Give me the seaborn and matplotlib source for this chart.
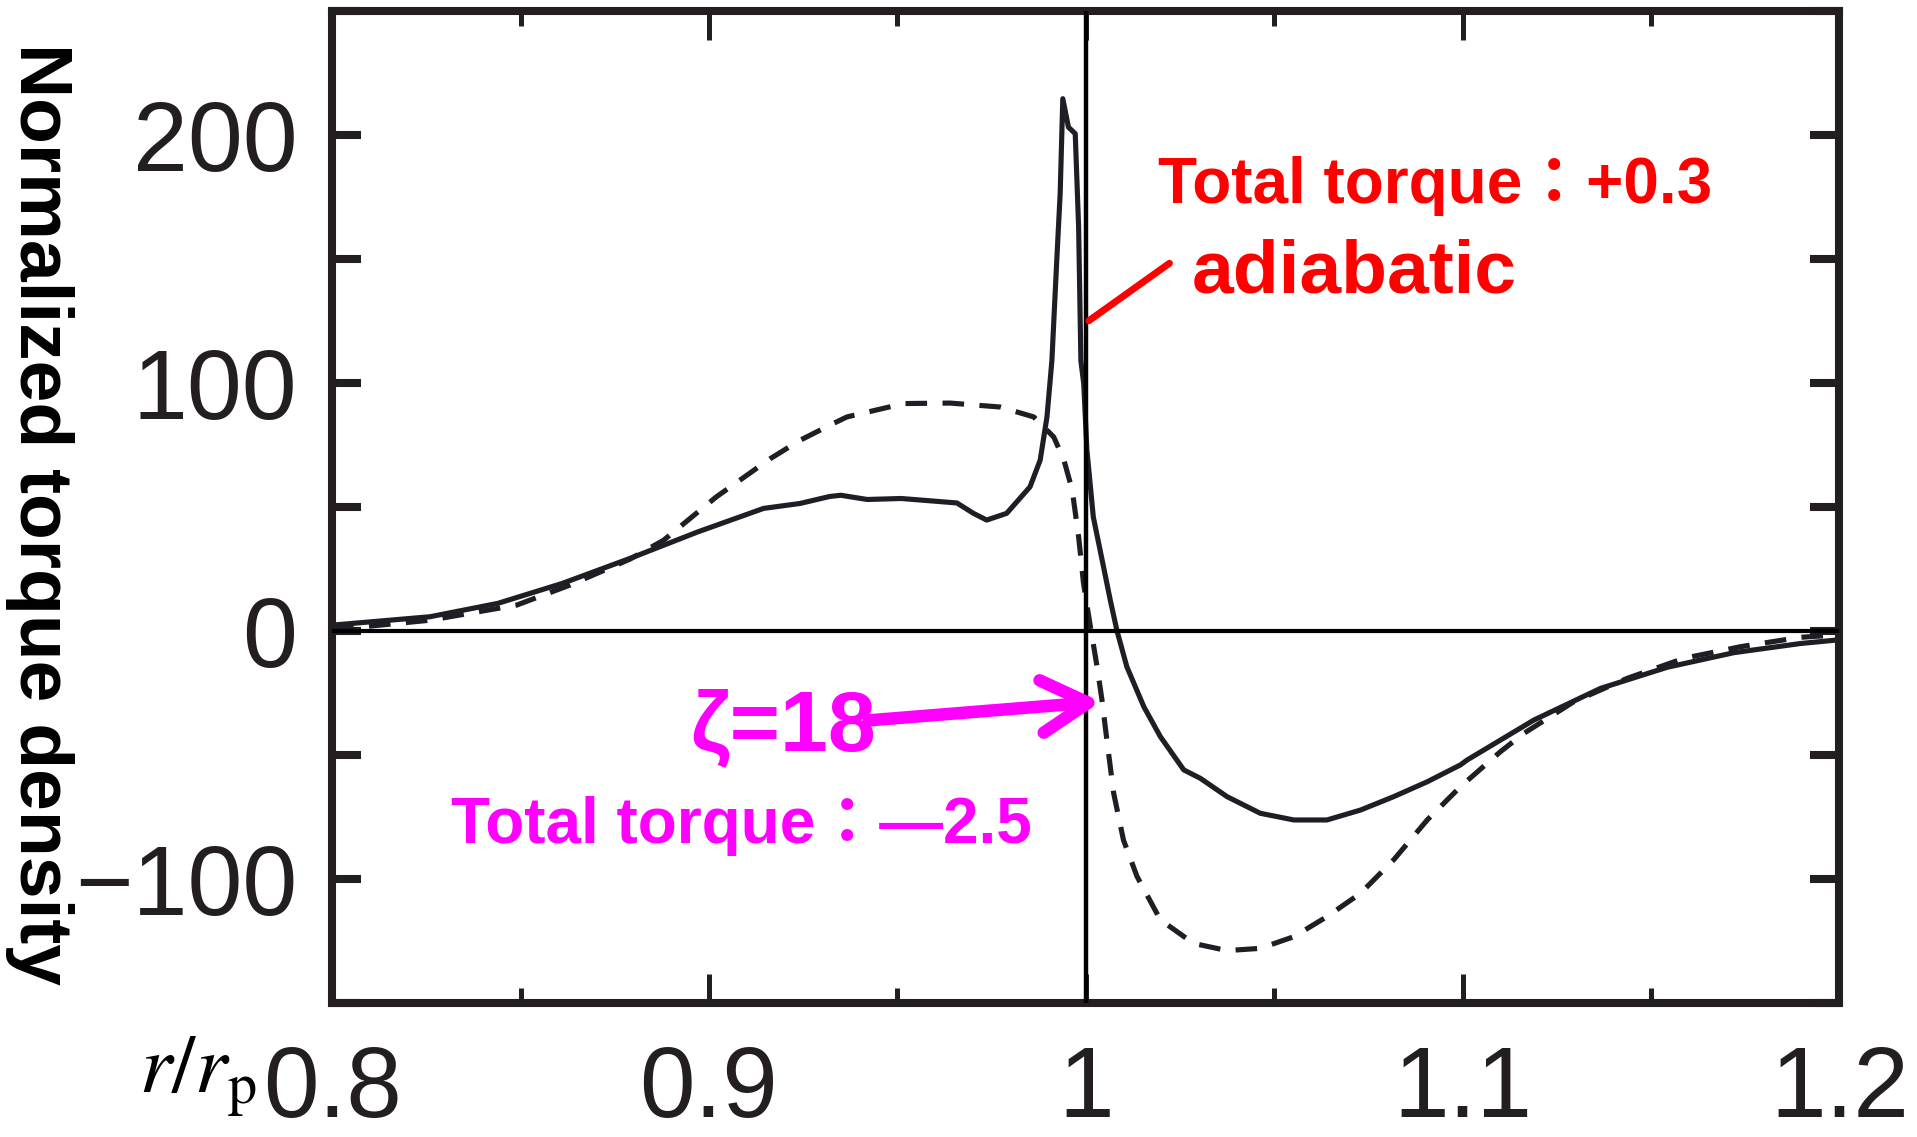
import matplotlib
matplotlib.use('Agg')
import matplotlib.pyplot as plt
from matplotlib.ticker import FixedLocator
import pandas as pd
import seaborn as sns

# torque density curves
r_solid = [0.800, 0.826, 0.844, 0.861, 0.879, 0.897, 0.9145, 0.9242, 0.932, 0.935,
           0.942, 0.951, 0.9658, 0.9702, 0.9737, 0.979, 0.9852, 0.9879, 0.9897, 0.9910,
           0.9923, 0.9932, 0.9939, 0.9954, 0.9972, 0.9981, 0.9987, 0.99945, 1.0003, 1.002,
           1.0047, 1.0065, 1.0083, 1.0109, 1.0154, 1.0198, 1.026, 1.0304, 1.0375, 1.0463,
           1.0552, 1.064, 1.0729, 1.0817, 1.0906, 1.0994, 1.1012, 1.1189, 1.1366, 1.1543,
           1.172, 1.1897, 1.200]
t_solid = [2.4, 5.8, 11.2, 19.2, 29.3, 40.0, 49.5, 51.5, 54.3, 54.8,
           53.1, 53.5, 51.7, 47.5, 44.8, 47.5, 58.2, 69.0, 86.4, 109.0,
           149.6, 176.5, 214.8, 203.3, 200.7, 163.0, 109.0, 99.9, 73.0, 46.0,
           26.0, 12.5, 0.0, -14.4, -30.5, -42.6, -56.0, -59.4, -66.8, -73.5,
           -76.2, -76.2, -72.2, -66.8, -60.8, -54.0, -52.0, -35.9, -23.1, -14.6,
           -8.7, -5.0, -3.5]

r_dash = [0.800, 0.808, 0.826, 0.849, 0.863, 0.879, 0.888, 0.902, 0.9163, 0.9242,
          0.932, 0.9366, 0.9517, 0.964, 0.9773, 0.9862, 0.9915, 0.9942, 0.9964, 0.9981,
          0.9994, 1.0012, 1.003, 1.0043, 1.0056, 1.0074, 1.010, 1.0136, 1.0198, 1.0286,
          1.0375, 1.0463, 1.0552, 1.064, 1.0729, 1.0817, 1.0906, 1.0994, 1.110, 1.1162,
          1.1295, 1.1436, 1.1587, 1.1737, 1.1897, 1.200]
t_dash = [1.0, 1.7, 4.4, 10.5, 18.5, 29.0, 36.7, 54.2, 69.6, 77.0,
          83.0, 86.4, 91.8, 92.0, 90.4, 86.4, 78.3, 69.0, 56.9, 38.0,
          19.2, 2.0, -14.4, -27.8, -44.0, -65.4, -84.3, -99.0, -116.5, -126.0,
          -128.9, -128.0, -123.3, -115.2, -105.8, -92.3, -76.2, -62.8, -48.7, -41.3,
          -28.5, -19.1, -11.0, -6.3, -2.5, -1.5]

x_major = [0.8, 0.9, 1.0, 1.1, 1.2]
x_labels = ['0.8', '0.9', '1', '1.1', '1.2']
x_minor = [0.85, 0.95, 1.05, 1.15]
y_ticks = [-150, -100, -50, 0, 50, 100, 150, 200, 250]
y_labels = ['', '\u2212100', '', '0', '', '100', '', '200', '']

sns.set_theme(style='ticks')
plt.rcParams['font.family'] = ['Liberation Sans', 'Noto Sans CJK JP', 'DejaVu Sans']
plt.rcParams['mathtext.fontset'] = 'stix'

ink = '#231f20'
curve = '#1e1e24'
red = '#ff0000'
magenta = '#ff00ff'

fig = plt.figure(figsize=(19.175, 11.375), dpi=100)
ax = fig.add_axes([0.1732, 0.1179, 0.7861, 0.8716])

df_s = pd.DataFrame({'r': r_solid, 'torque': t_solid})
df_d = pd.DataFrame({'r': r_dash, 'torque': t_dash})
sns.lineplot(data=df_s, x='r', y='torque', ax=ax, color=curve, lw=3.7,
             sort=False, estimator=None, solid_joinstyle='round',
             solid_capstyle='round')
sns.lineplot(data=df_d, x='r', y='torque', ax=ax, color=curve, lw=3.7,
             sort=False, estimator=None, linestyle=(0, (4.2, 3.0)),
             dash_joinstyle='round')

ax.axhline(0, color='black', lw=3.0, zorder=3)
ax.axvline(1.0, color='black', lw=3.2, zorder=3)

ax.set_xlim(0.8, 1.2)
ax.set_ylim(-150, 250)

for s in ax.spines.values():
    s.set_linewidth(5.8)
    s.set_color(ink)
    s.set_visible(True)

ax.set_xticks(x_major, x_labels)
ax.xaxis.set_minor_locator(FixedLocator(x_minor))
ax.set_yticks(y_ticks, y_labels)
ax.tick_params(axis='x', which='major', direction='in', length=21, width=3.6,
               top=True, labelsize=72, pad=29, color=ink, labelcolor=ink)
ax.tick_params(axis='x', which='minor', direction='in', length=11, width=3.6,
               top=True, color=ink)
ax.tick_params(axis='y', which='major', direction='in', length=21, width=5.8,
               right=True, labelsize=71, pad=25, color=ink, labelcolor=ink)

ax.set_ylabel('Normalized torque density', fontsize=54, fontweight='bold',
              rotation=270, va='center', ha='center', color='black')
ax.yaxis.set_label_coords(-0.194, 0.494)
ax.set_xlabel(r'$r/r_{\rm p}$', fontsize=60, color='black')
ax.xaxis.set_label_coords(-0.050, -0.0898)
ax.xaxis.label.set_ha('right')
ax.xaxis.label.set_va('baseline')

# annotations
ax.text(1.0192, 172.8, 'Total torque：+0.3', color=red, fontsize=46,
        fontweight='bold', ha='left', va='baseline')
ax.text(1.028, 136.7, 'adiabatic', color=red, fontsize=54,
        fontweight='bold', ha='left', va='baseline')
ax.annotate('', xy=(1.0008, 125.2), xytext=(1.0222, 148.4),
            arrowprops=dict(arrowstyle='-', color=red, lw=5,
                            shrinkA=0, shrinkB=0))

ax.text(0.895, -48, 'ζ=18', color=magenta, fontsize=62,
        fontweight='bold', ha='left', va='baseline')
ax.text(0.8315, -85.2, 'Total torque：—2.5', color=magenta, fontsize=46,
        fontweight='bold', ha='left', va='baseline')
ax.annotate('', xy=(1.004, -28.5), xytext=(0.9425, -36),
            arrowprops=dict(arrowstyle='->,head_length=0.8,head_width=0.45',
                            color=magenta, lw=9, mutation_scale=42,
                            shrinkA=0, shrinkB=0))

fig.savefig('out.png', dpi=100)
